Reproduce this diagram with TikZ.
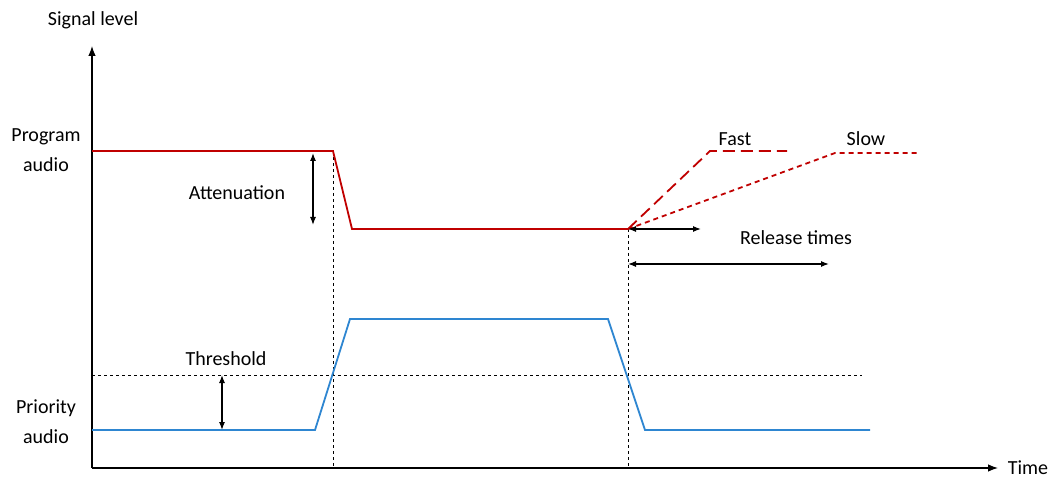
\documentclass[tikz,border=0pt]{standalone}
\usepackage{fontspec}
\setmainfont{Carlito}
\usetikzlibrary{arrows.meta}
\definecolor{progred}{HTML}{C00000}
\definecolor{priblue}{HTML}{2E86D1}
\begin{document}
\begin{tikzpicture}[x=1pt,y=-1pt,
  lbl/.style={font=\fontsize{20}{30}\selectfont, inner sep=0pt, align=center},
  sig/.style={line width=1.8pt},
  dbl/.style={{Latex[length=8pt]}-{Latex[length=8pt]}, line width=1.2pt},
  guide/.style={dashed, line width=0.8pt}]
\useasboundingbox (0,0) rectangle (1064,502);
% axes
\coordinate (O) at (92,468);
\coordinate (Ytop) at (92,46);
\coordinate (Xend) at (998,468);
\draw[-{Latex[length=10pt]}, line width=1.2pt] (O) -- (Ytop);
\draw[-{Latex[length=10pt]}, line width=1.2pt] (O) -- (Xend);
\node[lbl] (sl) at (93,20) {Signal level};
\node[lbl] (time) at (1028,468) {Time};
% guides
\coordinate (t1) at (333,151); \coordinate (t1b) at (333,468);
\coordinate (t2) at (628,229); \coordinate (t2b) at (628,468);
\coordinate (th1) at (92,375); \coordinate (th2) at (862,375);
\draw[guide] (t1) -- (t1b);
\draw[guide] (t2) -- (t2b);
\draw[guide] (th1) -- (th2);
% program audio
\draw[sig, progred] (92,151) -- (333,151) -- (352,229) -- (t2);
\draw[sig, progred, dash pattern=on 12pt off 6pt] (t2) -- (710,151) -- (787,151);
\draw[sig, progred, dash pattern=on 5pt off 4pt] (t2) -- (835,153) -- (918,153);
% priority audio
\draw[sig, priblue] (92,430) -- (315,430) -- (350,319) -- (608,319) -- (645,430) -- (870,430);
% arrows
\coordinate (a1) at (313,153); \coordinate (a2) at (313,225);
\draw[dbl] (a1) -- (a2);
\coordinate (b1) at (222,375); \coordinate (b2) at (222,430);
\draw[dbl] (b1) -- (b2);
\coordinate (r1) at (628,229); \coordinate (r2) at (701,229);
\draw[dbl] (r1) -- (r2);
\coordinate (s1) at (628,264); \coordinate (s2) at (829,264);
\draw[dbl] (s1) -- (s2);
% labels
\node[lbl] (pa) at (46,150) {Program\\audio};
\node[lbl] (pr) at (46,422) {Priority\\audio};
\node[lbl] (att) at (237,193) {Attenuation};
\node[lbl] (thr) at (226,359) {Threshold};
\node[lbl] (fast) at (735,139) {Fast};
\node[lbl] (slow) at (866,139) {Slow};
\node[lbl] (rel) at (796,238) {Release times};
\end{tikzpicture}
\end{document}
